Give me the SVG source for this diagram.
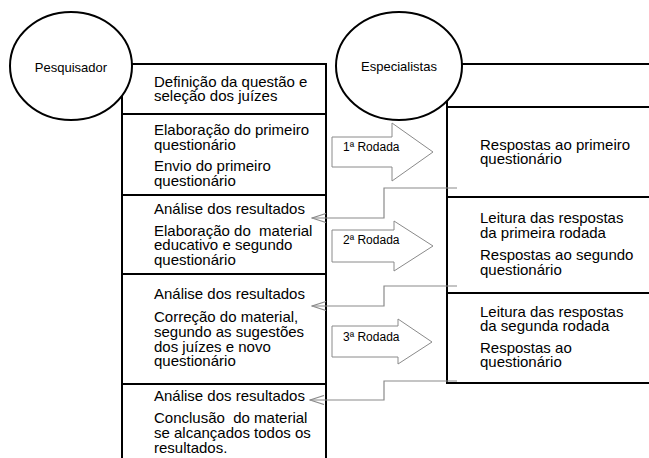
<svg xmlns="http://www.w3.org/2000/svg" width="649" height="458" viewBox="0 0 649 458">
<style>
.box{fill:#fff;stroke:#000;stroke-width:2}
.circ{fill:#fff;stroke:#000;stroke-width:2}
.t{font-family:"Liberation Sans",Arial,sans-serif;font-size:15px;fill:#000;white-space:pre}
.c{font-family:"Liberation Sans",Arial,sans-serif;font-size:13px;fill:#000;text-anchor:middle}
.r{font-family:"Liberation Sans",Arial,sans-serif;font-size:12px;fill:#000}
.blk{fill:#fff;stroke:#8a8a8a;stroke-width:1}
.fb{fill:none;stroke:#8a8a8a;stroke-width:1.2}
</style>
<defs>
<marker id="chev" markerUnits="userSpaceOnUse" viewBox="0 0 16 10" refX="15" refY="5" markerWidth="16" markerHeight="10" orient="auto">
<path d="M1,0.5 L15,5 L1,9.5" fill="none" stroke="#8a8a8a" stroke-width="1.2"/>
</marker>
</defs>
<rect width="649" height="458" fill="#fff"/>
<g id="col-pesquisador">
<g id="p1"><rect class="box" x="122" y="64" width="204" height="50"/>
<text class="t" x="154" y="87">Definição da questão e</text>
<text class="t" x="154" y="101">seleção dos juízes</text></g>
<g id="p2"><rect class="box" x="122" y="114" width="204" height="81"/>
<text class="t" x="154" y="135">Elaboração do primeiro</text>
<text class="t" x="154" y="150">questionário</text>
<text class="t" x="154" y="171">Envio do primeiro</text>
<text class="t" x="154" y="186">questionário</text></g>
<g id="p3"><rect class="box" x="122" y="195" width="204" height="79"/>
<text class="t" x="154" y="214">Análise dos resultados</text>
<text class="t" x="154" y="236">Elaboração do  material</text>
<text class="t" x="154" y="250">educativo e segundo</text>
<text class="t" x="154" y="265">questionário</text></g>
<g id="p4"><rect class="box" x="122" y="274" width="204" height="110"/>
<text class="t" x="154" y="299">Análise dos resultados</text>
<text class="t" x="154" y="322">Correção do material,</text>
<text class="t" x="154" y="337">segundo as sugestões</text>
<text class="t" x="154" y="352">dos juízes e novo</text>
<text class="t" x="154" y="366">questionário</text></g>
<g id="p5"><rect class="box" x="122" y="384" width="204" height="90"/>
<text class="t" x="154" y="401">Análise dos resultados</text>
<text class="t" x="154" y="423">Conclusão  do material</text>
<text class="t" x="154" y="438">se alcançados todos os</text>
<text class="t" x="154" y="453">resultados.</text></g>
</g>
<g id="col-especialistas">
<g id="e0"><rect class="box" x="447" y="64" width="215" height="43"/></g>
<g id="e1"><rect class="box" x="447" y="107" width="215" height="90"/>
<text class="t" x="480" y="150">Respostas ao primeiro</text>
<text class="t" x="480" y="164">questionário</text></g>
<g id="e2"><rect class="box" x="447" y="197" width="215" height="96"/>
<text class="t" x="480" y="223">Leitura das respostas</text>
<text class="t" x="480" y="238">da primeira rodada</text>
<text class="t" x="480" y="260">Respostas ao segundo</text>
<text class="t" x="480" y="275">questionário</text></g>
<g id="e3"><rect class="box" x="447" y="293" width="215" height="90"/>
<text class="t" x="480" y="317">Leitura das respostas</text>
<text class="t" x="480" y="331">da segunda rodada</text>
<text class="t" x="480" y="353">Respostas ao</text>
<text class="t" x="480" y="367">questionário</text></g>
</g>
<g id="node-pesquisador"><ellipse class="circ" cx="71" cy="66" rx="61" ry="54"/>
<text class="c" x="71" y="72">Pesquisador</text></g>
<g id="node-especialistas"><ellipse class="circ" cx="399" cy="66" rx="63" ry="54"/>
<text class="c" x="399" y="71">Especialistas</text></g>
<g id="connectors">
<g id="rodada1"><polygon class="blk" points="332,137 392,137 392,123 433,152 392,181 392,167 332,167"/>
<text class="r" x="343" y="151">1ª Rodada</text></g>
<g id="rodada2"><polygon class="blk" points="332,230 394,230 394,221 433,246 394,271 394,262 332,262"/>
<text class="r" x="343" y="244">2ª Rodada</text></g>
<g id="rodada3"><polygon class="blk" points="332,326 398,326 398,319 432,342 398,364 398,357 332,357"/>
<text class="r" x="343" y="341">3ª Rodada</text></g>
<polyline class="fb" points="457,188 384,188 384,218 312,218" marker-end="url(#chev)"/>
<polyline class="fb" points="457,286 384,286 384,306 312,306" marker-end="url(#chev)"/>
<polyline class="fb" points="457,381 384,381 384,400 310,400" marker-end="url(#chev)"/>
</g>
</svg>
